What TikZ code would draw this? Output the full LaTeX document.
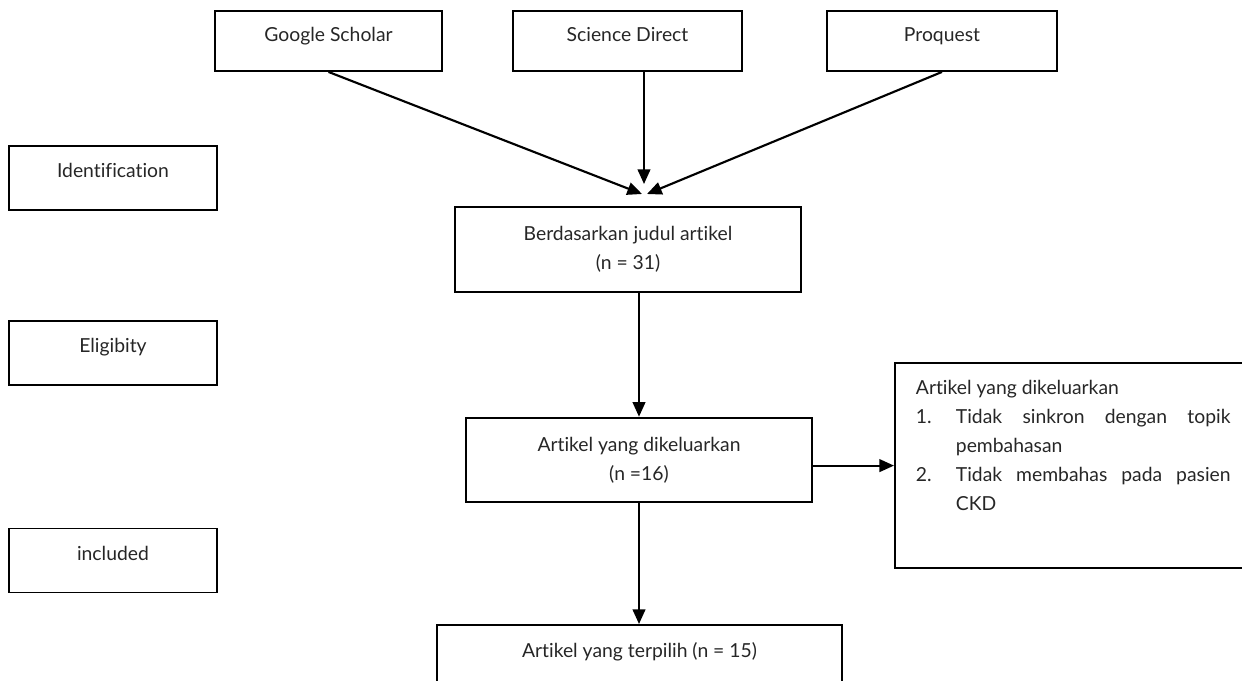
\documentclass[tikz,border=0pt]{standalone}
\usepackage{fontspec}
\setmainfont{Lato}[Ligatures=NoCommon]
\usepackage{enumitem}
\usetikzlibrary{arrows.meta}

\begin{document}
\begin{tikzpicture}[x=0.75pt,y=-0.75pt,font=\fontsize{14.5}{21.75}\selectfont,text=black!85,
    box/.style={draw,line width=1.4pt,minimum height=45pt,inner sep=0pt,text height=11pt,text depth=9.5pt},
    side/.style={draw,line width=1.4pt,minimum width=156pt,minimum height=48pt,inner sep=0pt,text height=11pt,text depth=11.5pt},
    mid/.style={draw,line width=1.4pt,minimum width=259.5pt,minimum height=63.5pt,inner sep=0pt,align=center},
    arr/.style={line width=1.6pt,-{Triangle[length=11pt,width=9.5pt]}}]
    \useasboundingbox (0,0) rectangle (1242,681);
    \clip (0,0) rectangle (1242,681);
    \node[box,minimum width=170.25pt] (gs) at (328.5,41) {Google Scholar};
    \node[box,minimum width=171.75pt] (sd) at (627.5,41) {Science Direct};
    \node[box,minimum width=172.5pt] (pq) at (942,41) {Proquest};
    \node[side] (ident) at (113,178) {Identification};
    \node[side] (elig) at (113,353) {Eligibity};
    \node[side] (incl) at (113,560.5) {included};
    \node[mid] (berd) at (628,249.5) {Berdasarkan judul artikel\\(n = 31)};
    \node[mid] (dikel) at (639,460) {Artikel yang dikeluarkan\\(n =16)};
    \node[draw,line width=1.4pt,anchor=north,minimum width=303.75pt,inner xsep=0pt,inner ysep=13.5pt,text height=11pt,text depth=30pt] (terp) at (639.5,624) {Artikel yang terpilih (n = 15)};
    \node[draw,line width=1.4pt,anchor=north west,inner xsep=15.75pt,inner ysep=0pt,text width=236pt,align=justify] (excl) at (894,362) {\rule{0pt}{24pt}Artikel yang dikeluarkan
        \begin{enumerate}[label=\arabic*.,leftmargin=30pt,labelindent=0pt,labelsep=0pt,labelwidth=30pt,align=left,topsep=0pt,partopsep=0pt,parsep=0pt,itemsep=0pt]
            \item Tidak sinkron dengan topik\linebreak pembahasan
            \item Tidak membahas pada pasien\linebreak CKD\rule[-43pt]{0pt}{43pt}
        \end{enumerate}};
    \coordinate (gsend) at (642,194);
    \coordinate (sdend) at (644,184);
    \coordinate (pqend) at (647,194);
    \draw[arr] (gs.south) -- (gsend);
    \draw[arr] (sd.south -| sdend) -- (sdend);
    \draw[arr] (pq.south) -- (pqend);
    \draw[arr] (berd.south -| dikel.north) -- (dikel.north);
    \draw[arr] (dikel.south) -- (dikel.south |- terp.north);
    \draw[arr] (dikel.east |- excl.west) -- (excl.west);
\end{tikzpicture}
\end{document}
